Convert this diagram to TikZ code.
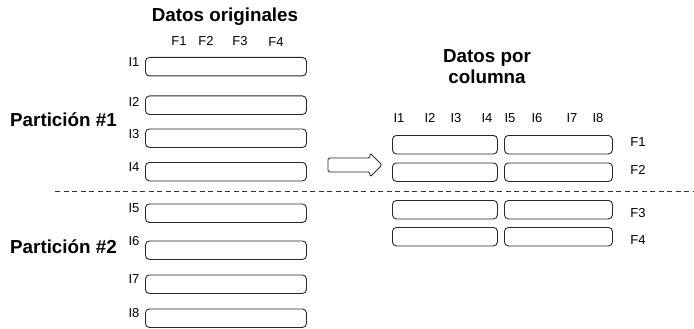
\documentclass[tikz,border=0pt]{standalone}
\usepackage{fontspec}
\setmainfont{Liberation Sans}
\begin{document}
\begin{tikzpicture}[x=1pt,y=-1pt,
  rowbox/.style={draw=black!85,line width=0.9pt,rounded corners=4pt,inner sep=0pt,minimum height=18.5pt,anchor=north west},
  lab/.style={font=\fontsize{13}{15}\selectfont,inner sep=0pt},
  title/.style={font=\fontsize{18.8}{22}\selectfont\bfseries,inner sep=0pt,align=center}]
\useasboundingbox (0,0) rectangle (694,329);
% titles
\node[title] (t1) at (225,17) {Datos originales};
\node[title] (t2) at (487,67) {Datos por\\[-1pt]columna};
\node[title,anchor=west] (p1) at (10,120) {Partición \#1};
\node[title,anchor=west] (p2) at (10,247) {Partición \#2};
% feature labels (left)
\node[lab] (lf1) at (179,41) {F1};
\node[lab] (lf2) at (206,41) {F2};
\node[lab] (lf3) at (240,41) {F3};
\node[lab] (lf4) at (276,42) {F4};
% left boxes
\foreach \i/\y/\ly in {1/57/62,2/95.5/102,3/128.5/134,4/162/167,5/203.5/208,6/240.5/241,7/274.5/279,8/308.5/313}{
  \node[rowbox,minimum width=161pt] (b\i) at (145,\y) {};
  \node[lab] (li\i) at (134,\ly) {I\i};
}
% dashed separator
\coordinate (d0) at (55,191);
\coordinate (d1) at (694,191);
\draw[dashed,dash pattern=on 5pt off 3.5pt,black!80,line width=0.6pt] (d0) -- (d1);
% arrow
\coordinate (a1) at (328,158);
\coordinate (a2) at (370,158);
\coordinate (a3) at (370,153);
\coordinate (a4) at (382,165);
\coordinate (a5) at (370,177);
\coordinate (a6) at (370,172);
\coordinate (a7) at (328,172);
\draw[draw=black!85,line width=0.9pt,rounded corners=1.5pt] (a1) -- (a2) -- (a3) -- (a4) -- (a5) -- (a6) -- (a7) -- cycle;
% column labels
\foreach \n/\x in {1/399,2/430,3/456,4/487,5/510,6/537,7/572,8/598}{
  \node[lab] (ci\n) at (\x,118) {I\n};
}
% right boxes
\foreach \f/\y/\ly in {1/135/142,2/162.5/170,3/200/213,4/227/240}{
  \node[rowbox,minimum width=105pt] (ra\f) at (392,\y) {};
  \node[rowbox,minimum width=108pt] (rb\f) at (504,\y) {};
  \node[lab] (rf\f) at (638,\ly) {F\f};
}
\end{tikzpicture}
\end{document}
